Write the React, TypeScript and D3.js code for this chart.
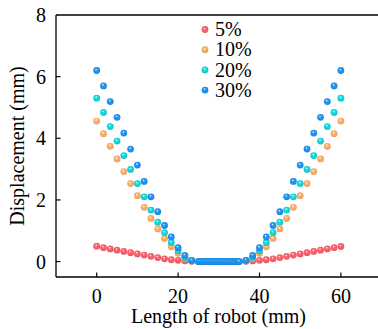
import React from 'react';
import * as d3 from 'd3';

// x positions along the robot (mm)
const xPos = [
  0, 1.67, 3.33, 5, 6.67, 8.33, 10, 11.67, 13.33, 15, 16.67, 18.33, 20, 21.67, 23.33,
  25, 25.5, 26, 26.5, 27, 27.5, 28, 28.5, 29, 29.5, 30, 30.5, 31, 31.5, 32, 32.5, 33, 33.5, 34, 34.5, 35,
  36.67, 38.33, 40, 41.67, 43.33, 45, 46.67, 48.33, 50, 51.67, 53.33, 55, 56.67, 58.33, 60,
];

const flat = [0, 0, 0, 0, 0, 0, 0, 0, 0, 0, 0, 0, 0, 0, 0, 0, 0, 0, 0, 0, 0];

const red5 = [
  0.5, 0.45, 0.41, 0.37, 0.33, 0.29, 0.25, 0.21, 0.17, 0.13, 0.09, 0.06, 0.04, 0.02, 0.01,
  ...flat,
  0.01, 0.02, 0.04, 0.06, 0.09, 0.13, 0.17, 0.21, 0.25, 0.29, 0.33, 0.37, 0.41, 0.45, 0.49,
];
const orange10 = [
  4.56, 4.15, 3.74, 3.33, 2.92, 2.53, 2.14, 1.76, 1.4, 1.06, 0.75, 0.48, 0.27, 0.1, 0.02,
  ...flat,
  0.02, 0.1, 0.27, 0.48, 0.75, 1.06, 1.4, 1.76, 2.14, 2.53, 2.92, 3.33, 3.74, 4.15, 4.56,
];
const cyan20 = [
  5.3, 4.84, 4.38, 3.91, 3.44, 2.99, 2.53, 2.1, 1.67, 1.28, 0.94, 0.62, 0.35, 0.13, 0.03,
  ...flat,
  0.03, 0.13, 0.35, 0.62, 0.94, 1.28, 1.67, 2.1, 2.53, 2.99, 3.44, 3.91, 4.38, 4.84, 5.3,
];
const blue30 = [
  6.2, 5.7, 5.19, 4.68, 4.17, 3.65, 3.13, 2.6, 2.1, 1.62, 1.17, 0.8, 0.45, 0.2, 0.04,
  ...flat,
  0.04, 0.2, 0.45, 0.8, 1.17, 1.62, 2.1, 2.6, 3.13, 3.65, 4.17, 4.68, 5.19, 5.7, 6.2,
];

const seriesNames = ['5%', '10%', '20%', '30%'];
const seriesValues = [red5, orange10, cyan20, blue30];
const seriesColors = ['#f25a64', '#f4a062', '#14c6c8', '#1e88e2'];

const xTicks = [0, 20, 40, 60];
const yTicks = [0, 2, 4, 6, 8];

const W = 378;
const H = 329;
const font = '"Liberation Serif", "Times New Roman", serif';

export default function App() {
  const x = d3.scaleLinear().domain([-10, 70]).range([56, 381.6]);
  const y = d3.scaleLinear().domain([-0.5, 8]).range([277, 15]);
  const r = 3.4;
  const [x0, x1] = x.range();
  const [yb, yt] = y.range();
  const txt = { fontFamily: font, fontSize: 20, fill: '#000' };

  return (
    <svg width={W} height={H} style={{ position: 'absolute', left: 0, top: 0, background: '#fff' }}>
      <defs>
        {seriesColors.map((c, i) => (
          <radialGradient key={i} id={`ball${i}`} cx="50%" cy="50%" r="55%" fx="40%" fy="30%">
            <stop offset="0%" stopColor="#ffffff" stopOpacity={0.95} />
            <stop offset="30%" stopColor={d3.color(c)!.brighter(0.4).formatHex()} />
            <stop offset="100%" stopColor={d3.color(c)!.darker(0.15).formatHex()} />
          </radialGradient>
        ))}
      </defs>

      {/* frame */}
      <g fill="none" stroke="#000" strokeWidth={1.3}>
        <line x1={x0} x2={x1} y1={yb} y2={yb} />
        <line x1={x0} x2={x1} y1={yt} y2={yt} />
        <line x1={x0} x2={x0} y1={yt} y2={yb} />
        <line x1={x1} x2={x1} y1={yt} y2={yb} />
      </g>

      {/* x ticks */}
      {xTicks.map((t) => (
        <g key={t}>
          <line x1={x(t)} x2={x(t)} y1={yb} y2={yb - 4.5} stroke="#000" strokeWidth={1.2} />
          <text x={x(t)} y={303} textAnchor="middle" style={txt}>
            {t}
          </text>
        </g>
      ))}

      {/* y ticks */}
      {yTicks.map((t) => (
        <g key={t}>
          {t !== 8 && (
            <line x1={x0} x2={x0 + 4.5} y1={y(t)} y2={y(t)} stroke="#000" strokeWidth={1.2} />
          )}
          <text x={46} y={y(t)} dy="0.35em" textAnchor="end" style={txt}>
            {t}
          </text>
        </g>
      ))}

      <text x={218.5} y={323} textAnchor="middle" style={txt}>
        Length of robot (mm)
      </text>
      <text transform={`translate(24, ${(yt + yb) / 2}) rotate(-90)`} textAnchor="middle" style={txt}>
        Displacement (mm)
      </text>

      {/* points */}
      {seriesValues.map((vals, si) => (
        <g key={si}>
          {vals.map((v, i) => (
            <circle key={i} cx={x(xPos[i])} cy={y(v)} r={r} fill={`url(#ball${si})`} />
          ))}
        </g>
      ))}

      {/* legend */}
      {seriesNames.map((n, i) => (
        <g key={n} transform={`translate(205, ${29.5 + i * 20.2})`}>
          <circle cx={0} cy={0} r={r} fill={`url(#ball${i})`} />
          <text x={10} y={0} dy="0.33em" style={txt}>
            {n}
          </text>
        </g>
      ))}
    </svg>
  );
}
